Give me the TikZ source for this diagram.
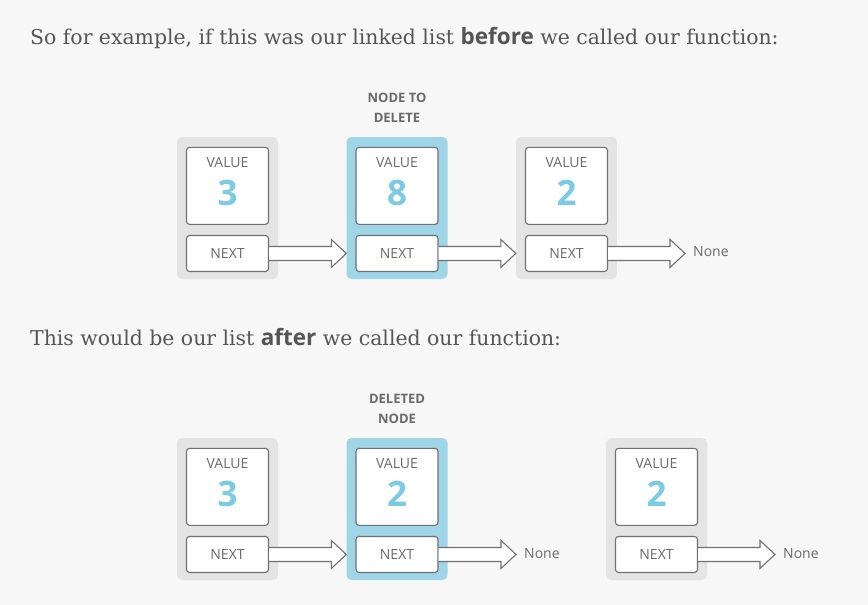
\documentclass[tikz,border=0pt]{standalone}
\usepackage{fontspec}
\setmainfont{DejaVu Serif}
\newfontfamily\osans{Open Sans}
\usetikzlibrary{positioning,calc}
\definecolor{pagebg}{HTML}{F7F7F7}
\definecolor{cellgray}{HTML}{E4E4E4}
\definecolor{cellblue}{HTML}{9ED5E7}
\definecolor{numblue}{HTML}{7CCBE4}
\definecolor{linegray}{HTML}{707070}
\definecolor{txtgray}{HTML}{6A6A6A}
\definecolor{headgray}{HTML}{555555}
\tikzset{
  cell/.style={rounded corners=5pt, minimum width=101pt, minimum height=142pt, inner sep=0pt},
  valbox/.style={draw=linegray, line width=1.1pt, fill=white, rounded corners=3pt, minimum width=82pt, minimum height=77pt, inner sep=0pt,
    text=numblue, font=\osans\bfseries\fontsize{35}{35}\selectfont, text height=40pt, text depth=1pt},
  nextbox/.style={draw=linegray, line width=1.1pt, fill=white, rounded corners=3pt, minimum width=82pt, minimum height=36pt, inner sep=0pt,
    text=txtgray, font=\osans\fontsize{14}{17}\selectfont},
  vallbl/.style={anchor=north, yshift=-10pt, inner sep=0pt, text height=10pt, text depth=0pt, text=txtgray, font=\osans\fontsize{14}{17}\selectfont},
  nonetxt/.style={anchor=west, inner sep=0pt, text=txtgray, font=\osans\fontsize{14}{17}\selectfont},
  toplbl/.style={align=center, inner sep=0pt, text=txtgray, font=\osans\bfseries\fontsize{13}{20}\selectfont},
  heading/.style={anchor=base west, inner sep=0pt, text=headgray, font=\fontsize{20.4}{26}\selectfont},
  arrowline/.style={draw=linegray, line width=1.1pt, fill=white, line join=miter},
}
\newcommand\nextarrow[2]{%
  \draw[arrowline] let \p1=(#1.east), \p2=(#2) in
    (\x1,\y1+7pt) -- (\x2-15pt,\y1+7pt) -- (\x2-15pt,\y1+14pt) -- (\x2,\y1)
    -- (\x2-15pt,\y1-14pt) -- (\x2-15pt,\y1-7pt) -- (\x1,\y1-7pt);}
\begin{document}
\begin{tikzpicture}[x=1pt,y=-1pt]
  \fill[pagebg] (0,0) rectangle (868,605);
  \node[heading] (head1) at (30,44) {So for example, if this was our linked list {\osans\bfseries\fontsize{22.5}{26}\selectfont before} we called our function:};
  \node[heading] (head2) at (30,345) {This would be our list {\osans\bfseries\fontsize{22.5}{26}\selectfont after} we called our function:};
  \node[toplbl] (lbltop) at (397,107.5) {NODE TO\\DELETE};
  \node[toplbl] (lblbot) at (397,409) {DELETED\\NODE};
  \foreach \n/\x/\y/\v/\c in {a/227.5/208/3/cellgray, b/397/208/8/cellblue, c/566.5/208/2/cellgray,
                              d/227.5/509/3/cellgray, e/397/509/2/cellblue, f/656.5/509/2/cellgray} {
    \node[cell, fill=\c] (o\n) at (\x,\y) {};
    \node[valbox, below=10pt of o\n.north, label={[vallbl, name=l\n]north:VALUE}] (v\n) {\v};
    \node[nextbox, below=10pt of v\n] (n\n) {NEXT};
  }
  \node[nonetxt] (none1) at (693,252) {None};
  \node[nonetxt] (none2) at (524,554) {None};
  \node[nonetxt] (none3) at (783,554) {None};
  \nextarrow{na}{ob.west}
  \nextarrow{nb}{oc.west}
  \nextarrow{nc}{[xshift=-8pt]none1.west}
  \nextarrow{nd}{oe.west}
  \nextarrow{ne}{[xshift=-8pt]none2.west}
  \nextarrow{nf}{[xshift=-8pt]none3.west}
\end{tikzpicture}
\end{document}
